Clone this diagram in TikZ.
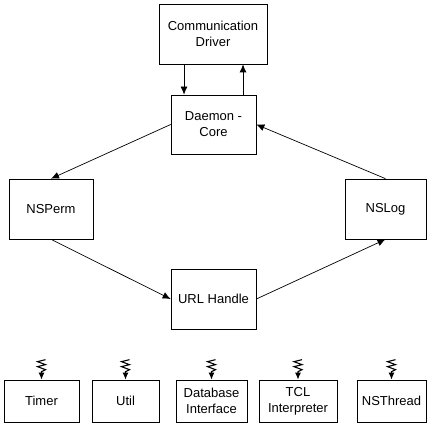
\documentclass[tikz,border=0pt]{standalone}
\usepackage{fontspec}
\setmainfont{Liberation Sans}
\usetikzlibrary{arrows.meta,positioning,calc}
\tikzset{
    block/.style={
        draw,
        rectangle,
        line width=0.7pt,
        align=center,
        inner sep=2pt,
        minimum height=60pt,
        minimum width=85pt
    },
    service/.style={
        draw,
        rectangle,
        line width=0.7pt,
        align=center,
        inner sep=1pt,
        minimum height=42pt
    },
    flow/.style={
        line width=0.7pt,
        -{Latex[length=8pt,width=7pt]}
    },
    spring/.style={
        line width=1.1pt,
        -{Latex[length=7pt,width=6pt]}
    },
}

\begin{document}
\begin{tikzpicture}[x=1pt, y=1pt, font=\fontsize{13}{16}\selectfont]
        \useasboundingbox (0,0) rectangle (427,423);
        % blocks
        \node[block, minimum width=108pt] (driver) at (213,389) {Communication\\Driver};
        \node[block, minimum height=59pt] (core) at (213.5,298.5) {Daemon -\\Core};
        \node[block, minimum width=84pt] (nsperm) at (51,214) {NSPerm};
        \node[block, minimum width=81pt] (nslog) at (385.5,214) {NSLog};
        \node[block] (url) at (213.5,124) {URL Handle};

        % service modules
        \node[service, minimum width=75pt] (timer) at (41.5,22) {Timer};
        \node[service, minimum width=67pt] (util) at (125.5,22) {Util};
        \node[service, minimum width=71pt] (db) at (211.5,22) {Database\\Interface};
        \node[service, minimum width=78pt] (tcl) at (298,22) {TCL\\Interpreter};
        \node[service, minimum width=69pt] (thread) at (391.5,22) {NSThread};

        % lines
        \draw[flow] ([xshift=-29pt]driver.south) -- ([xshift=-29pt]driver.south |- core.north);
        \draw[flow] ([xshift=30pt]driver.south |- core.north) -- ([xshift=30pt]driver.south);
        \draw[flow] (core.west) -- (nsperm.north);
        \draw[flow] (nsperm.south) -- (url.west);
        \draw[flow] (url.east) -- (nslog.south);
        \draw[flow] (nslog.north) -- (core.east);

        % signal springs
        \foreach \mod in {timer,util,db,tcl,thread}
            \draw[spring] ([shift={(4,20)}]\mod.north) -- ++(-8,-2) -- ++(8,-3)
                -- ++(-8,-2) -- ++(8,-3) -- ++(-4,-2) -- (\mod.north);
\end{tikzpicture}
\end{document}
